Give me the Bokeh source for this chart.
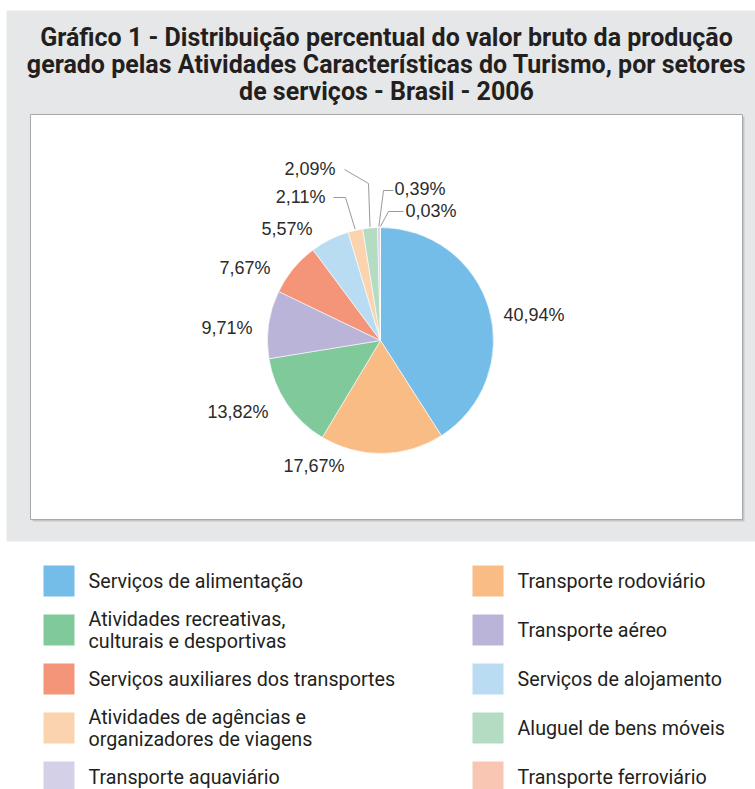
import math
from bokeh.plotting import figure
from bokeh.models import Range1d, ColumnDataSource
from bokeh.core.properties import value
from bokeh.embed import file_html
from bokeh.resources import INLINE

# ---------------- data ----------------
title_lines = [
    "Gráfico 1 - Distribuição percentual do valor bruto da produção",
    "gerado pelas Atividades Características do Turismo, por setores",
    "de serviços - Brasil - 2006",
]
sectors = [
    "Serviços de alimentação",
    "Transporte rodoviário",
    "Atividades recreativas,\nculturais e desportivas",
    "Transporte aéreo",
    "Serviços auxiliares dos transportes",
    "Serviços de alojamento",
    "Atividades de agências e\norganizadores de viagens",
    "Aluguel de bens móveis",
    "Transporte aquaviário",
    "Transporte ferroviário",
]
shares = [40.94, 17.67, 13.82, 9.71, 7.67, 5.57, 2.11, 2.09, 0.39, 0.03]
colors = ["#74bde8", "#f9bc85", "#80c99a", "#b9b4d8", "#f4957a",
          "#b9dcf3", "#fbd3ae", "#b3dcc3", "#d3d0e8", "#f9c6b4"]
share_labels = ["40,94%", "17,67%", "13,82%", "9,71%", "7,67%",
                "5,57%", "2,11%", "2,09%", "0,39%", "0,03%"]

# ---------------- layout ----------------
W, H = 755, 789
def Y(y):
    return H - y

p = figure(width=W, height=H, x_range=Range1d(0, W), y_range=Range1d(0, H),
           output_backend="svg", toolbar_location=None, min_border=0)
p.axis.visible = False
p.grid.visible = False
p.outline_line_color = None
p.background_fill_color = "white"
p.border_fill_color = "white"

# grey panel
p.quad(left=6, right=W, top=Y(10), bottom=Y(541), fill_color="#e6e7e8", line_color=None)
# shadow + white box
p.quad(left=32, right=744, top=Y(116), bottom=Y(521), fill_color="#c4c5c7", line_color=None)
p.quad(left=30, right=742, top=Y(114), bottom=Y(519), fill_color="white",
       line_color="#a8a9ab", line_width=1)

# title
tfont = value("Roboto")
for yc, line in zip([36.5, 63.5, 90.5], title_lines):
    p.text(x=[386], y=[Y(yc)], text=[line], text_font=tfont,
           text_font_style="bold", text_font_size="25px", text_color="#231f20",
           text_align="center", text_baseline="middle")

# pie
cx, cy, r = 380, Y(340), 113
total = sum(shares)
starts, ends, mids = [], [], []
acc = 0.0
for v in shares:
    a0 = math.pi / 2 - 2 * math.pi * acc / total
    acc += v
    a1 = math.pi / 2 - 2 * math.pi * acc / total
    starts.append(a0)
    ends.append(a1)
    mids.append((a0 + a1) / 2)
src = ColumnDataSource(dict(start=starts, end=ends, color=colors))
p.wedge(x=cx, y=cy, radius=r, start_angle="start", end_angle="end",
        direction="clock", fill_color="color", line_color="white",
        line_width=0.6, source=src)

# value labels (positions are layout)
lab_pos = [(503, 314, "left"), (283, 465, "left"), (268, 411, "right"),
           (252, 327, "right"), (270, 267, "right"), (312, 228, "right"),
           (325, 196, "right"), (335, 168, "right"), (394, 188, "left"),
           (405, 210, "left")]
lfont = value("Liberation Sans")
for (lx, ly, al), t in zip(lab_pos, share_labels):
    p.text(x=[lx], y=[Y(ly)], text=[t], text_font=lfont, text_font_size="18px",
           text_color="#2b2b2b", text_align=al, text_baseline="middle")

# leader lines for the small slices
leaders = {6: [(333, 197), (345, 197)], 7: [(344, 169), (368, 183)],
           8: [(393, 190), (383, 190)], 9: [(403, 211), (388, 211)]}
for idx, pts in leaders.items():
    ex = cx + (r + 1) * math.cos(mids[idx])
    ey = cy + (r + 1) * math.sin(mids[idx])
    xs = [q[0] for q in pts] + [ex]
    ys = [Y(q[1]) for q in pts] + [ey]
    p.line(xs, ys, line_color="#9a9a9a", line_width=1)

# legend
row_y = [580.5, 629.5, 678.5, 727.5, 776.5]
col_x = [43, 472]
gfont = value("Roboto")
for i, (name, c) in enumerate(zip(sectors, colors)):
    row, col = i // 2, i % 2
    x0, yc = col_x[col], row_y[row]
    p.quad(left=x0, right=x0 + 31, top=Y(yc - 15.5), bottom=Y(yc + 15.5),
           fill_color=c, line_color=None)
    lines = name.split("\n")
    n = len(lines)
    for k, ln in enumerate(lines):
        yy = yc + (k - (n - 1) / 2) * 22
        p.text(x=[x0 + 45], y=[Y(yy)], text=[ln], text_font=gfont,
               text_font_size="19.7px", text_color="#231f20",
               text_align="left", text_baseline="middle")

open("out.html", "w").write(file_html(p, INLINE))
